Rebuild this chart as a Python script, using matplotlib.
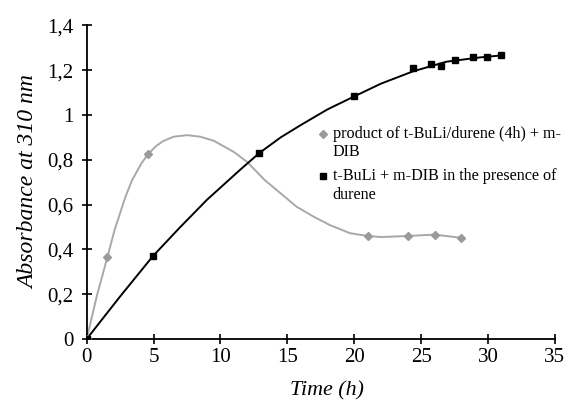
import matplotlib
matplotlib.use('Agg')
import matplotlib.pyplot as plt
from matplotlib.legend_handler import HandlerLine2D

# ---- data ----
gray_label = "product of t-BuLi/durene (4h) + m-\nDIB"
black_label = "t-BuLi + m-DIB in the presence of\ndurene"

gray_time = [0, 1.55, 4.6, 21.0, 24.0, 26.0, 27.95]
gray_abs = [0, 0.366, 0.826, 0.46, 0.46, 0.466, 0.452]

black_time = [0, 4.95, 12.9, 20.0, 24.4, 25.7, 26.5, 27.5, 28.9, 29.9, 31.0]
black_abs = [0, 0.37, 0.831, 1.085, 1.208, 1.226, 1.217, 1.244, 1.257, 1.257, 1.267]

# smoothed curves as they appear in the picture
gray_curve_time = [0, 0.75, 1.55, 2.1, 2.9, 3.4, 4.1, 4.6, 5.2, 5.7, 6.5, 7.5, 8.5, 9.5,
                   11.0, 12.0, 13.3, 14.5, 15.7, 17.0, 18.2, 19.7, 21.0, 22.0, 24.0, 26.0, 27.95]
gray_curve_abs = [0, 0.19, 0.366, 0.49, 0.635, 0.71, 0.785, 0.826, 0.862, 0.883, 0.903, 0.91, 0.903, 0.885,
                  0.835, 0.79, 0.71, 0.65, 0.59, 0.545, 0.508, 0.472, 0.46, 0.455, 0.46, 0.466, 0.452]

black_curve_time = [0, 2.5, 4.95, 7.0, 9.0, 11.5, 12.9, 14.5, 16.0, 18.0, 20.0, 22.0,
                    24.4, 26.9, 29.4, 31.0]
black_curve_abs = [0, 0.19, 0.37, 0.5, 0.622, 0.757, 0.83, 0.9, 0.955, 1.025, 1.083, 1.14,
                   1.195, 1.238, 1.257, 1.266]

x_ticks = [0, 5, 10, 15, 20, 25, 30, 35]
y_ticks = [0, 0.2, 0.4, 0.6, 0.8, 1.0, 1.2, 1.4]
y_tick_labels = ['0', '0,2', '0,4', '0,6', '0,8', '1', '1,2', '1,4']

plt.rcParams['font.family'] = ['Liberation Serif', 'DejaVu Serif']


class FirstLineHandler(HandlerLine2D):
    """Place the legend marker on the first line of a two-line label."""
    def create_artists(self, legend, orig_handle, xdescent, ydescent, width,
                       height, fontsize, trans):
        arts = super().create_artists(legend, orig_handle, xdescent, ydescent,
                                      width, height, fontsize, trans)
        for a in arts:
            a.set_ydata([v + 0.6 * fontsize for v in a.get_ydata()])
        return arts


fig = plt.figure(figsize=(5.68, 4.01), dpi=100)
ax = fig.add_axes([0.1526, 0.1546, 0.8244, 0.7821])

gray_line = '#a8a8a8'
gray_mark = '#9a9a9a'

ax.plot(gray_curve_time, gray_curve_abs, color=gray_line, lw=1.4, zorder=2)
ax.plot(black_curve_time, black_curve_abs, color='black', lw=1.4, zorder=3)
h1, = ax.plot(gray_time, gray_abs, ls='none', marker='D', ms=4, color=gray_mark,
              label=gray_label, zorder=4)
h2, = ax.plot(black_time, black_abs, ls='none', marker='s', ms=5, color='black',
              label=black_label, zorder=5)

ax.set_xlim(0, 35)
ax.set_ylim(0, 1.4)
ax.set_xticks(x_ticks)
ax.set_yticks(y_ticks)
ax.set_yticklabels(y_tick_labels)

for s in ['top', 'right']:
    ax.spines[s].set_visible(False)
for s in ['left', 'bottom']:
    ax.spines[s].set_linewidth(1.3)
    ax.spines[s].set_clip_on(False)

ax.tick_params(direction='inout', length=7, width=1.2, labelsize=15, colors='black')
ax.tick_params(axis='y', pad=6)
ax.tick_params(axis='x', pad=3)

ax.set_xlabel('Time (h)', fontsize=15.8, style='italic')
ax.xaxis.set_label_coords(0.513, -0.135)
ax.set_ylabel('Absorbance at 310 nm', fontsize=17, style='italic', labelpad=6)

leg = ax.legend(handles=[h1, h2], loc='upper left', bbox_to_anchor=(0.48, 0.70),
                frameon=False, fontsize=11.6, handlelength=0.6, handletextpad=0.32,
                labelspacing=0.5, numpoints=1, borderaxespad=0,
                handler_map={h1: FirstLineHandler(), h2: FirstLineHandler()})

fig.savefig('out.png', dpi=100)
